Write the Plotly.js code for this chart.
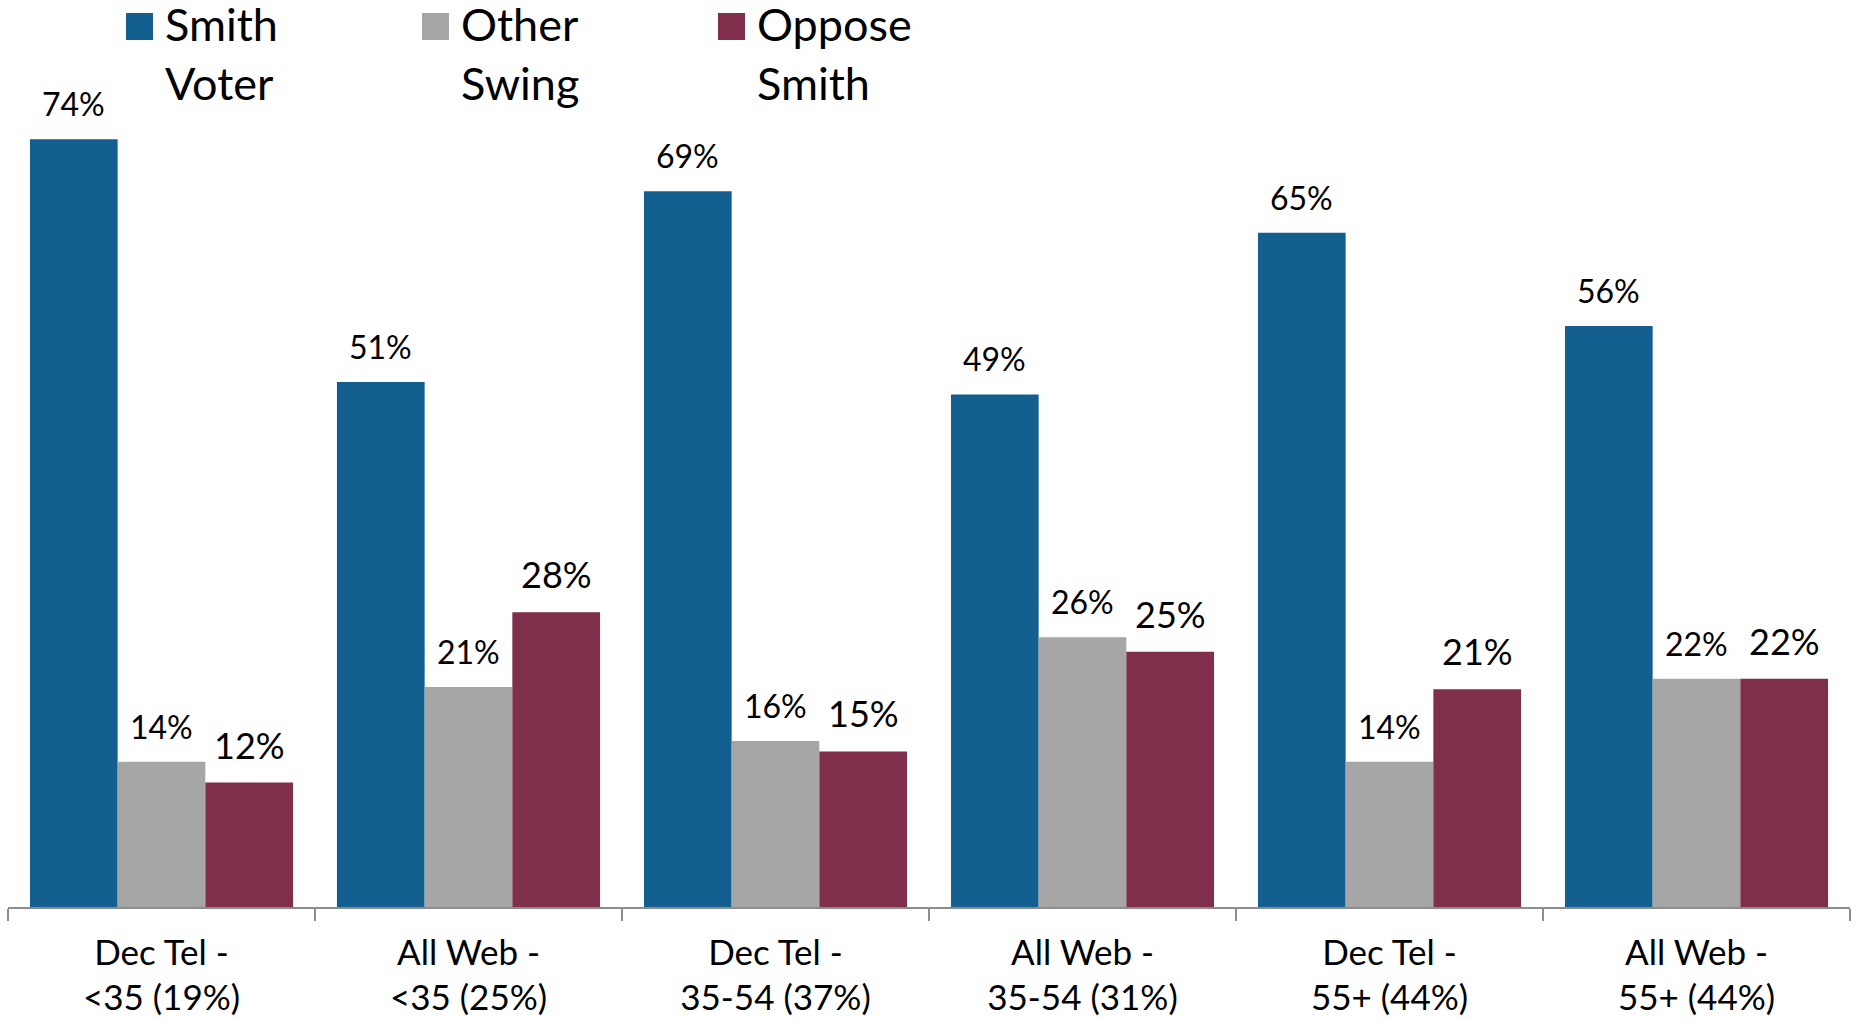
<!DOCTYPE html>
<html>
<head>
<meta charset="utf-8">
<script src="https://cdn.plot.ly/plotly-3.0.1.min.js"></script>
<style>
  html, body { margin: 0; padding: 0; background: #fff; }
  #chart { width: 1856px; height: 1019px; }
</style>
</head>
<body>
<div id="chart"></div>
<script>
// categories (two-line axis labels)
var groups = ['Dec Tel -', 'All Web -', 'Dec Tel -', 'All Web -', 'Dec Tel -', 'All Web -'];
var subgroups = ['&lt;35 (19%)', '&lt;35 (25%)', '35-54 (37%)', '35-54 (31%)', '55+ (44%)', '55+ (44%)'];

// series (bar heights; labels show them rounded)
var seriesNames = ['Smith<br>Voter', 'Other<br>Swing', 'Oppose<br>Smith'];
var smithVoter = [74, 50.6, 69, 49.4, 65, 56];
var otherSwing = [14, 21.2, 16, 26, 14, 22];
var opposeSmith = [12, 28.4, 15, 24.6, 21, 22];

var colors = ['#135f90', '#a6a6a6', '#7f2e4b'];
var labelSizes = [32, 32, 36];
var font = 'Lato, "Open Sans", sans-serif';

var W = 1856, H = 1019;
var M = {l: 8, r: 6, t: 77, b: 112};
var bargap = 0.143;

var categories = groups.map(function (g, i) { return g + '<br>' + subgroups[i]; });
var series = [smithVoter, otherSwing, opposeSmith];

// pixel -> paper helpers for the legend block
function px(x) { return (x - M.l) / (W - M.l - M.r); }
function py(y) { return (H - M.b - y) / (H - M.t - M.b); }

var data = series.map(function (vals, s) {
  return {
    type: 'bar',
    x: categories,
    y: vals,
    name: seriesNames[s],
    marker: {color: colors[s]},
    hoverinfo: 'x+y+name',
    showlegend: false
  };
});

// value labels above each bar
var annotations = [];
var barW = (1 - bargap) / series.length;
series.forEach(function (vals, s) {
  vals.forEach(function (v, i) {
    annotations.push({
      xref: 'x', yref: 'y',
      x: i + (s - 1) * barW,
      y: v,
      text: Math.round(v) + '%',
      showarrow: false,
      xanchor: 'center', yanchor: 'bottom',
      yshift: 14,
      font: {family: font, size: labelSizes[s], color: '#000'}
    });
  });
});

// legend block across the top
var shapes = [];
seriesNames.forEach(function (name, s) {
  var left = 126 + s * 296;
  shapes.push({
    type: 'rect', xref: 'paper', yref: 'paper',
    x0: px(left), x1: px(left + 27), y0: py(40), y1: py(13),
    fillcolor: colors[s], line: {width: 0}
  });
  annotations.push({
    xref: 'paper', yref: 'paper',
    x: px(left + 37), y: py(112),
    text: name, align: 'left',
    showarrow: false,
    xanchor: 'left', yanchor: 'bottom',
    font: {family: font, size: 45, color: '#000'}
  });
});

var layout = {
  width: W, height: H,
  margin: M,
  paper_bgcolor: '#fff',
  plot_bgcolor: '#fff',
  barmode: 'group',
  bargap: bargap,
  bargroupgap: 0,
  showlegend: false,
  font: {family: font, color: '#000'},
  xaxis: {
    type: 'category',
    range: [-0.5, 5.5],
    showline: true,
    linecolor: '#8c8c8c',
    linewidth: 1.5,
    ticks: 'outside',
    tickson: 'boundaries',
    ticklen: 12,
    tickwidth: 1.5,
    tickcolor: '#8c8c8c',
    ticklabelstandoff: 14,
    tickfont: {family: font, size: 35, color: '#000'},
    showgrid: false,
    zeroline: false
  },
  yaxis: {
    range: [0, 80],
    visible: false,
    showgrid: false,
    zeroline: false
  },
  shapes: shapes,
  annotations: annotations
};

Plotly.newPlot('chart', data, layout, {displayModeBar: false});
</script>
</body>
</html>
